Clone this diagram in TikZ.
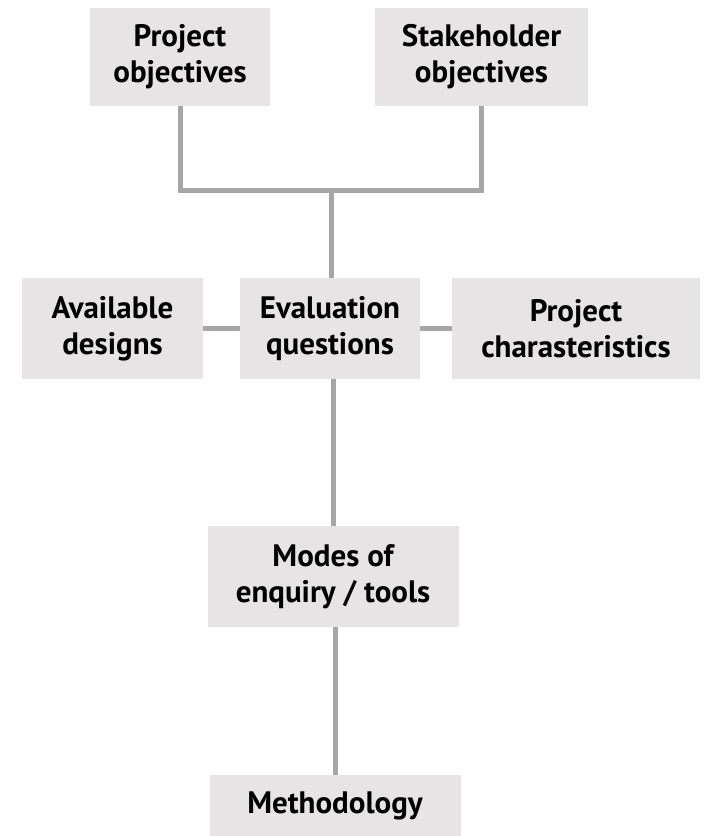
\documentclass[tikz,border=0pt]{standalone}
\usepackage{fontspec}
\setmainfont{PT Sans}
\definecolor{boxgray}{HTML}{E6E4E5}
\definecolor{linegray}{HTML}{A6A6A6}

\begin{document}
\begin{tikzpicture}[x=1pt, y=-1pt]
   \tikzstyle{box}=[fill=boxgray, inner sep=0pt, align=center, text=black,
      font=\fontsize{31}{36}\selectfont\bfseries]
   \tikzstyle{link}=[draw=linegray, line width=5pt]

\useasboundingbox (0,0) rectangle (704,836);

% top row
\node[box, minimum width=180pt, minimum height=98pt] (pobj) at (180,57) {Project\\objectives};
\node[box, minimum width=213pt, minimum height=98pt] (sobj) at (481.5,57) {Stakeholder\\objectives};

% middle row
\node[box, minimum width=181pt, minimum height=101pt] (avail) at (112.5,328.5) {Available\\designs};
\node[box, minimum width=180pt, minimum height=101pt] (evalq) at (330,328.5) {Evaluation\\questions};
\node[box, minimum width=248pt, minimum height=101pt] (pchar) at (576,328.5) {Project\\charasteristics};

% bottom
\node[box, minimum width=251pt, minimum height=101pt] (modes) at (333,576.5) {Modes of\\enquiry / tools};
\node[box, minimum width=251pt, minimum height=61pt] (meth) at (335,805.5) {Methodology};

\coordinate (junc) at (331,190);

\draw[link] (pobj.south) |- (junc) -| (sobj.south);
\draw[link] (junc) -- (junc |- evalq.north);
\draw[link] (avail) -- (evalq);
\draw[link] (evalq) -- (pchar);
\draw[link] (evalq.south -| modes.north) -- (modes.north);
\draw[link] (modes.south -| meth.north) -- (meth.north);

\end{tikzpicture}
\end{document}
